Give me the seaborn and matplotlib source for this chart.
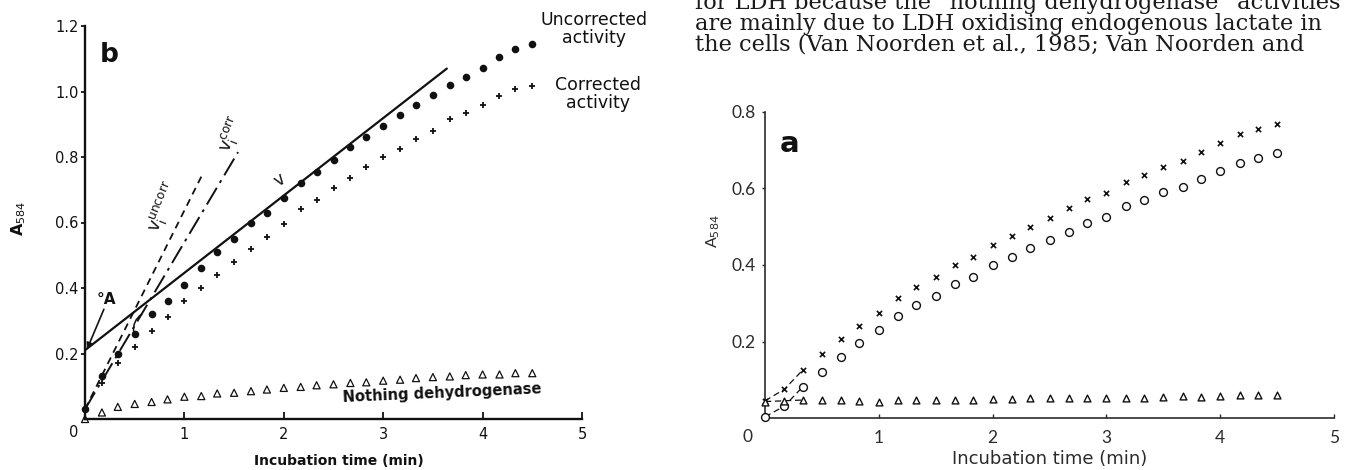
import matplotlib
matplotlib.use("Agg")
import matplotlib.pyplot as plt
import seaborn as sns

# ---------------------------------------------------------------- data
# incubation time (min), readings every 10 s
time_min = [0.0, 0.17, 0.33, 0.5, 0.67, 0.83, 1.0, 1.17, 1.33, 1.5, 1.67, 1.83,
            2.0, 2.17, 2.33, 2.5, 2.67, 2.83, 3.0, 3.17, 3.33, 3.5, 3.67, 3.83,
            4.0, 4.17, 4.33, 4.5]

# panel b: absorbance at 584 nm
b_uncorrected = [0.03, 0.13, 0.20, 0.26, 0.32, 0.36, 0.41, 0.46, 0.51, 0.55, 0.60,
                 0.63, 0.675, 0.72, 0.755, 0.79, 0.83, 0.862, 0.895, 0.928, 0.958,
                 0.99, 1.02, 1.044, 1.072, 1.105, 1.13, 1.145]
b_corrected = [0.03, 0.11, 0.17, 0.22, 0.27, 0.31, 0.36, 0.40, 0.44, 0.48, 0.52,
               0.555, 0.595, 0.64, 0.67, 0.705, 0.735, 0.77, 0.80, 0.825, 0.855,
               0.88, 0.915, 0.934, 0.96, 0.987, 1.008, 1.017]
b_nothing = [0.0, 0.02, 0.037, 0.046, 0.052, 0.06, 0.068, 0.07, 0.078, 0.08, 0.085,
             0.09, 0.095, 0.098, 0.103, 0.106, 0.11, 0.112, 0.117, 0.12, 0.125,
             0.128, 0.13, 0.134, 0.136, 0.136, 0.14, 0.14]

# panel b: fitted rates (steady-state v, initial v_i uncorrected / corrected)
v_t = [0.0, 3.64]
v_a = [0.21, 1.07]
vi_uncorr_t = [0.0, 1.17]
vi_uncorr_a = [0.03, 0.74]
vi_corr_t = [0.0, 1.54]
vi_corr_a = [0.03, 0.815]

# panel a: absorbance at 584 nm
a_crosses = [0.045, 0.075, 0.125, 0.167, 0.206, 0.24, 0.274, 0.313, 0.343, 0.369,
             0.40, 0.42, 0.452, 0.475, 0.499, 0.523, 0.548, 0.572, 0.589, 0.617,
             0.635, 0.656, 0.672, 0.695, 0.718, 0.742, 0.756, 0.769]
a_circles = [0.003, 0.031, 0.081, 0.12, 0.16, 0.196, 0.23, 0.267, 0.295, 0.319,
             0.35, 0.369, 0.40, 0.422, 0.444, 0.465, 0.486, 0.509, 0.526, 0.554,
             0.57, 0.59, 0.604, 0.625, 0.646, 0.667, 0.68, 0.693]
a_triangles = [0.043, 0.045, 0.047, 0.046, 0.047, 0.044, 0.043, 0.046, 0.046,
               0.046, 0.046, 0.046, 0.050, 0.050, 0.051, 0.051, 0.052, 0.053,
               0.053, 0.053, 0.052, 0.054, 0.057, 0.055, 0.057, 0.060, 0.061,
               0.061]

b_yticks = [0.2, 0.4, 0.6, 0.8, 1.0, 1.2]
b_yticklabels = ["0.2", "0.4", "0.6", "0.8", "1.0", "1.2"]
a_yticks = [0.2, 0.4, 0.6, 0.8]
a_yticklabels = ["0.2", "0.4", "0.6", "0.8"]
xticks = [1, 2, 3, 4, 5]
xticklabels = ["1", "2", "3", "4", "5"]

body_text = [
    "for LDH because the \u201cnothing dehydrogenase\u201d activities",
    "are mainly due to LDH oxidising endogenous lactate in",
    "the cells (Van Noorden et al., 1985; Van Noorden and",
]

# ---------------------------------------------------------------- style
sns.set_theme(style="ticks")
plt.rcParams["font.family"] = ["DejaVu Sans"]
plt.rcParams["axes.edgecolor"] = "black"
plt.rcParams["text.color"] = "black"

W, H = 1347, 470
fig = plt.figure(figsize=(W / 100, H / 100), dpi=100)
fig.patch.set_facecolor("white")


def frame(left, right, top, bottom):
    return [left / W, 1 - bottom / H, (right - left) / W, (bottom - top) / H]


ink = "#111111"
grey_ink = "#2b2b2b"

# ================================================================ panel b
axb = fig.add_axes(frame(85, 582, 26, 419))
axb.set_xlim(0, 5)
axb.set_ylim(0, 1.2)
for side in ("top", "right"):
    axb.spines[side].set_visible(False)
for side in ("left", "bottom"):
    axb.spines[side].set_linewidth(1.7)
    axb.spines[side].set_color(ink)

sns.lineplot(x=v_t, y=v_a, ax=axb, color=ink, linewidth=1.6, sort=False,
             estimator=None)
sns.lineplot(x=vi_uncorr_t, y=vi_uncorr_a, ax=axb, color=ink, linewidth=1.3,
             sort=False, estimator=None, linestyle=(0, (4, 3)))
sns.lineplot(x=vi_corr_t, y=vi_corr_a, ax=axb, color=ink, linewidth=1.4,
             sort=False, estimator=None, linestyle=(0, (10, 3, 1.5, 3)))

sns.scatterplot(x=time_min, y=b_uncorrected, ax=axb, marker="o", color=ink,
                s=30, linewidth=0, clip_on=False, zorder=4)
sns.scatterplot(x=time_min, y=b_corrected, ax=axb, marker="+", color=ink,
                s=22, linewidth=1.3, clip_on=False, zorder=4)
sns.scatterplot(x=time_min, y=b_nothing, ax=axb, marker="^", facecolor="none",
                edgecolor=ink, s=26, linewidth=0.9, clip_on=False, zorder=4)

axb.set_xticks(xticks)
axb.set_xticklabels(xticklabels)
axb.set_yticks(b_yticks)
axb.set_yticklabels(b_yticklabels)
axb.tick_params(axis="x", direction="in", length=5, width=1.3, pad=5.5,
                labelsize=10.5, colors=ink)
axb.tick_params(axis="y", direction="out", length=3, width=1.3, pad=1.5,
                labelsize=10.5, colors=ink)
axb.text(-0.11, -0.04, "0", ha="center", va="center", fontsize=10.5,
         color=ink, clip_on=False)

axb.set_xlabel("Incubation time (min)", fontsize=10, fontweight="bold",
               color=ink)
axb.xaxis.set_label_coords(0.51, -0.088)
axb.set_ylabel("A$_{584}$", fontsize=11.5, fontweight="bold", color=ink)
axb.yaxis.set_label_coords(-0.115, 0.51)

axb.text(0.15, 1.15, "b", fontsize=19, fontweight="bold", ha="left",
         va="top", color=ink)
axb.text(5.12, 1.245, "Uncorrected\nactivity", fontsize=12.5, ha="center",
         va="top", linespacing=0.95, color=ink, clip_on=False)
axb.text(5.16, 1.046, "Corrected\nactivity", fontsize=12.5, ha="center",
         va="top", linespacing=0.95, color=ink, clip_on=False)
axb.text(3.59, 0.079, "Nothing dehydrogenase", fontsize=10.5,
         fontweight="bold", ha="center", va="center", rotation=2.5,
         color=ink)
axb.text(1.96, 0.73, "v", fontsize=12, ha="center", va="center",
         rotation=35, color=ink)
axb.text(0.79, 0.647, r"$\mathregular{v_i^{uncorr}}$", fontsize=12.5,
         ha="center", va="center", rotation=68, color=ink)
axb.text(1.48, 0.867, r"$\mathregular{v_i^{corr}}$", fontsize=12.5,
         ha="center", va="center", rotation=68, color=ink)
axb.text(0.22, 0.365, "\u00b0A", fontsize=11, fontweight="bold",
         ha="center", va="center", color=ink)
axb.annotate("", xy=(0.02, 0.213), xytext=(0.19, 0.335),
             arrowprops=dict(arrowstyle="-|>", color=ink, lw=1.2,
                             mutation_scale=9, shrinkA=0, shrinkB=0))
axb.annotate("", xy=(0.57, 0.32), xytext=(0.49, 0.265),
             arrowprops=dict(arrowstyle="-", color=ink, lw=1.1,
                             connectionstyle="arc3,rad=-0.3",
                             shrinkA=0, shrinkB=0))

# ================================================================ panel a
thin = dict(family=["Lato", "DejaVu Sans"])
axa = fig.add_axes(frame(765, 1334, 112, 418))
axa.set_xlim(0, 5)
axa.set_ylim(0, 0.8)
for side in ("top", "right"):
    axa.spines[side].set_visible(False)
for side in ("left", "bottom"):
    axa.spines[side].set_linewidth(1.2)
    axa.spines[side].set_color(grey_ink)

# dashed joins to the zero-time readings
sns.lineplot(x=time_min[:3], y=a_crosses[:3], ax=axa, color=ink, linewidth=0.9,
             sort=False, estimator=None, linestyle=(0, (5, 3)))
sns.lineplot(x=time_min[:3], y=a_circles[:3], ax=axa, color=ink, linewidth=0.9,
             sort=False, estimator=None, linestyle=(0, (5, 3)))
sns.lineplot(x=time_min[:3], y=a_triangles[:3], ax=axa, color=ink,
             linewidth=0.9, sort=False, estimator=None, linestyle=(0, (5, 3)))

sns.scatterplot(x=time_min, y=a_crosses, ax=axa, marker="x", color=ink,
                s=14, linewidth=1.2, clip_on=False, zorder=4)
sns.scatterplot(x=time_min, y=a_circles, ax=axa, marker="o", facecolor="white",
                edgecolor=ink, s=32, linewidth=1.0, clip_on=False, zorder=4)
sns.scatterplot(x=time_min, y=a_triangles, ax=axa, marker="^",
                facecolor="white", edgecolor=ink, s=24, linewidth=1.0,
                clip_on=False, zorder=4)

axa.set_xticks(xticks)
axa.set_xticklabels(xticklabels, **thin)
axa.set_yticks(a_yticks)
axa.set_yticklabels(a_yticklabels, **thin)
axa.tick_params(axis="x", direction="in", length=3, width=1.0, pad=8.5,
                labelsize=12.5, colors=grey_ink)
axa.tick_params(axis="y", direction="out", length=2, width=1.0, pad=5,
                labelsize=12.5, colors=grey_ink)
axa.text(-0.15, -0.05, "0", ha="center", va="center", fontsize=12.5,
         color=grey_ink, clip_on=False, **thin)

axa.set_xlabel("Incubation time (min)", fontsize=13, color=grey_ink,
               family="DejaVu Sans")
axa.xaxis.set_label_coords(0.50, -0.105)
axa.set_ylabel("A$_{584}$", fontsize=11.5, color=grey_ink, **thin)
axa.yaxis.set_label_coords(-0.075, 0.61)

axa.text(0.13, 0.752, "a", fontsize=21, fontweight="bold", ha="left",
         va="top", color=ink)

# ---------------------------------------------------------------- running text
for i, line in enumerate(body_text):
    fig.text(695 / W, 1 - (9 + 21 * i) / H, line, fontsize=16.2,
             family=["DejaVu Serif"], color="#1a1a1a",
             ha="left", va="baseline")

fig.savefig("out.png", dpi=100, facecolor="white")
